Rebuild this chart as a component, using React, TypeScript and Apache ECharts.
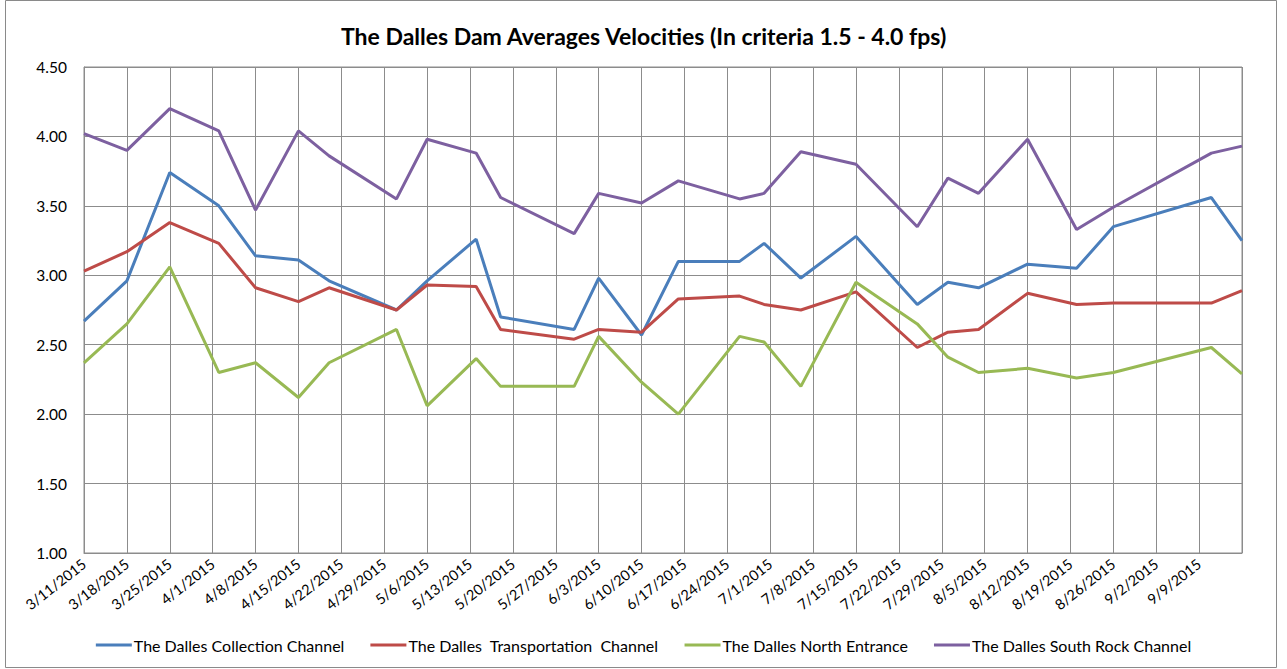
import React, { useEffect, useRef } from "react";
import * as echarts from "echarts";

const title = "The Dalles Dam Averages Velocities (In criteria 1.5 - 4.0 fps)";
const axisStart = "3/11/2015";
const axisEnd = "9/16/2015";

const dates = [
  "3/11/2015", "3/18/2015", "3/25/2015", "4/2/2015", "4/8/2015", "4/15/2015", "4/20/2015",
  "5/1/2015", "5/6/2015", "5/14/2015", "5/18/2015", "5/30/2015", "6/3/2015", "6/10/2015",
  "6/16/2015", "6/26/2015", "6/30/2015", "7/6/2015", "7/15/2015", "7/25/2015", "7/30/2015",
  "8/4/2015", "8/12/2015", "8/20/2015", "8/26/2015", "9/11/2015", "9/16/2015",
];

const collection = [
  2.67, 2.96, 3.74, 3.50, 3.14, 3.11, 2.96, 2.75, 2.96, 3.26, 2.70, 2.61, 2.98, 2.57,
  3.10, 3.10, 3.23, 2.98, 3.28, 2.79, 2.95, 2.91, 3.08, 3.05, 3.35, 3.56, 3.25,
];
const transportation = [
  3.03, 3.17, 3.38, 3.23, 2.91, 2.81, 2.91, 2.75, 2.93, 2.92, 2.61, 2.54, 2.61, 2.59,
  2.83, 2.85, 2.79, 2.75, 2.88, 2.48, 2.59, 2.61, 2.87, 2.79, 2.80, 2.80, 2.89,
];
const northEntrance = [
  2.37, 2.65, 3.06, 2.30, 2.37, 2.12, 2.37, 2.61, 2.06, 2.40, 2.20, 2.20, 2.56, 2.23,
  2.00, 2.56, 2.52, 2.20, 2.95, 2.65, 2.41, 2.30, 2.33, 2.26, 2.30, 2.48, 2.29,
];
const southRock = [
  4.02, 3.90, 4.20, 4.04, 3.47, 4.04, 3.86, 3.55, 3.98, 3.88, 3.56, 3.30, 3.59, 3.52,
  3.68, 3.55, 3.59, 3.89, 3.80, 3.35, 3.70, 3.59, 3.98, 3.33, 3.49, 3.88, 3.93,
];

const seriesNames = [
  "The Dalles Collection Channel",
  "The Dalles  Transportation  Channel",
  "The Dalles North Entrance",
  "The Dalles South Rock Channel",
];
const seriesColors = ["#4a7ebb", "#be4b48", "#98b954", "#7d60a0"];

const DAY = 86400000;
function toUTC(s: string): number {
  const [m, d, y] = s.split("/").map(Number);
  return Date.UTC(y, m - 1, d);
}
const t0 = toUTC(axisStart);
const dayOf = (s: string) => Math.round((toUTC(s) - t0) / DAY);
const fmtDay = (v: number) => {
  const dt = new Date(t0 + v * DAY);
  return `${dt.getUTCMonth() + 1}/${dt.getUTCDate()}/${dt.getUTCFullYear()}`;
};

export default function App() {
  const ref = useRef<HTMLDivElement>(null);
  useEffect(() => {
    if (!ref.current) return;
    const chart = echarts.init(ref.current, undefined, { renderer: "svg" });
    const allValues = [collection, transportation, northEntrance, southRock];
    const font = "Lato, 'Open Sans', sans-serif";
    chart.setOption({
      animation: false,
      backgroundColor: "#ffffff",
      textStyle: { fontFamily: font },
      title: {
        text: title,
        left: 336,
        top: 19,
        textStyle: { fontFamily: font, fontWeight: "bold", fontSize: 23, color: "#000" },
      },
      legend: {
        bottom: 11,
        left: "center",
        icon: "rect",
        itemWidth: 36,
        itemHeight: 3,
        itemGap: 26,
        textStyle: { fontFamily: font, fontSize: 16, color: "#000", padding: [0, 0, 0, -3] },
        data: seriesNames,
      },
      graphic: [
        {
          type: "rect",
          shape: { x: 5.5, y: 0.5, width: 1271, height: 667 },
          style: { fill: "none", stroke: "#8a8a8a", lineWidth: 1 },
          silent: true,
        },
      ],
      grid: {
        left: 84,
        top: 67,
        width: 1158,
        height: 486,
        show: true,
        borderColor: "#8c8c8c",
        borderWidth: 1,
      },
      xAxis: {
        type: "value",
        min: 0,
        max: dayOf(axisEnd),
        interval: 7,
        axisLine: { show: true, lineStyle: { color: "#8c8c8c" } },
        axisTick: { show: false },
        splitLine: { show: true, lineStyle: { color: "#8c8c8c", width: 1 } },
        axisLabel: {
          rotate: 38,
          margin: 9,
          fontSize: 14.5,
          color: "#000",
          fontFamily: font,
          showMaxLabel: false,
          formatter: (v: number) => fmtDay(v),
        },
      },
      yAxis: {
        type: "value",
        min: 1,
        max: 4.5,
        interval: 0.5,
        axisLine: { show: true, lineStyle: { color: "#8c8c8c" } },
        axisTick: { show: false },
        splitLine: { show: true, lineStyle: { color: "#8c8c8c", width: 1 } },
        axisLabel: {
          margin: 17,
          fontSize: 15.5,
          color: "#000",
          fontFamily: font,
          formatter: (v: number) => v.toFixed(2),
        },
      },
      series: seriesNames.map((name, i) => ({
        name,
        type: "line",
        showSymbol: false,
        symbol: "none",
        color: seriesColors[i],
        lineStyle: { width: 3, color: seriesColors[i] },
        data: dates.map((d, j) => [dayOf(d), allValues[i][j]]),
      })),
    });
    return () => chart.dispose();
  }, []);
  return (
    <div
      ref={ref}
      style={{ position: "fixed", left: 0, top: 0, width: 1287, height: 669 }}
    />
  );
}
